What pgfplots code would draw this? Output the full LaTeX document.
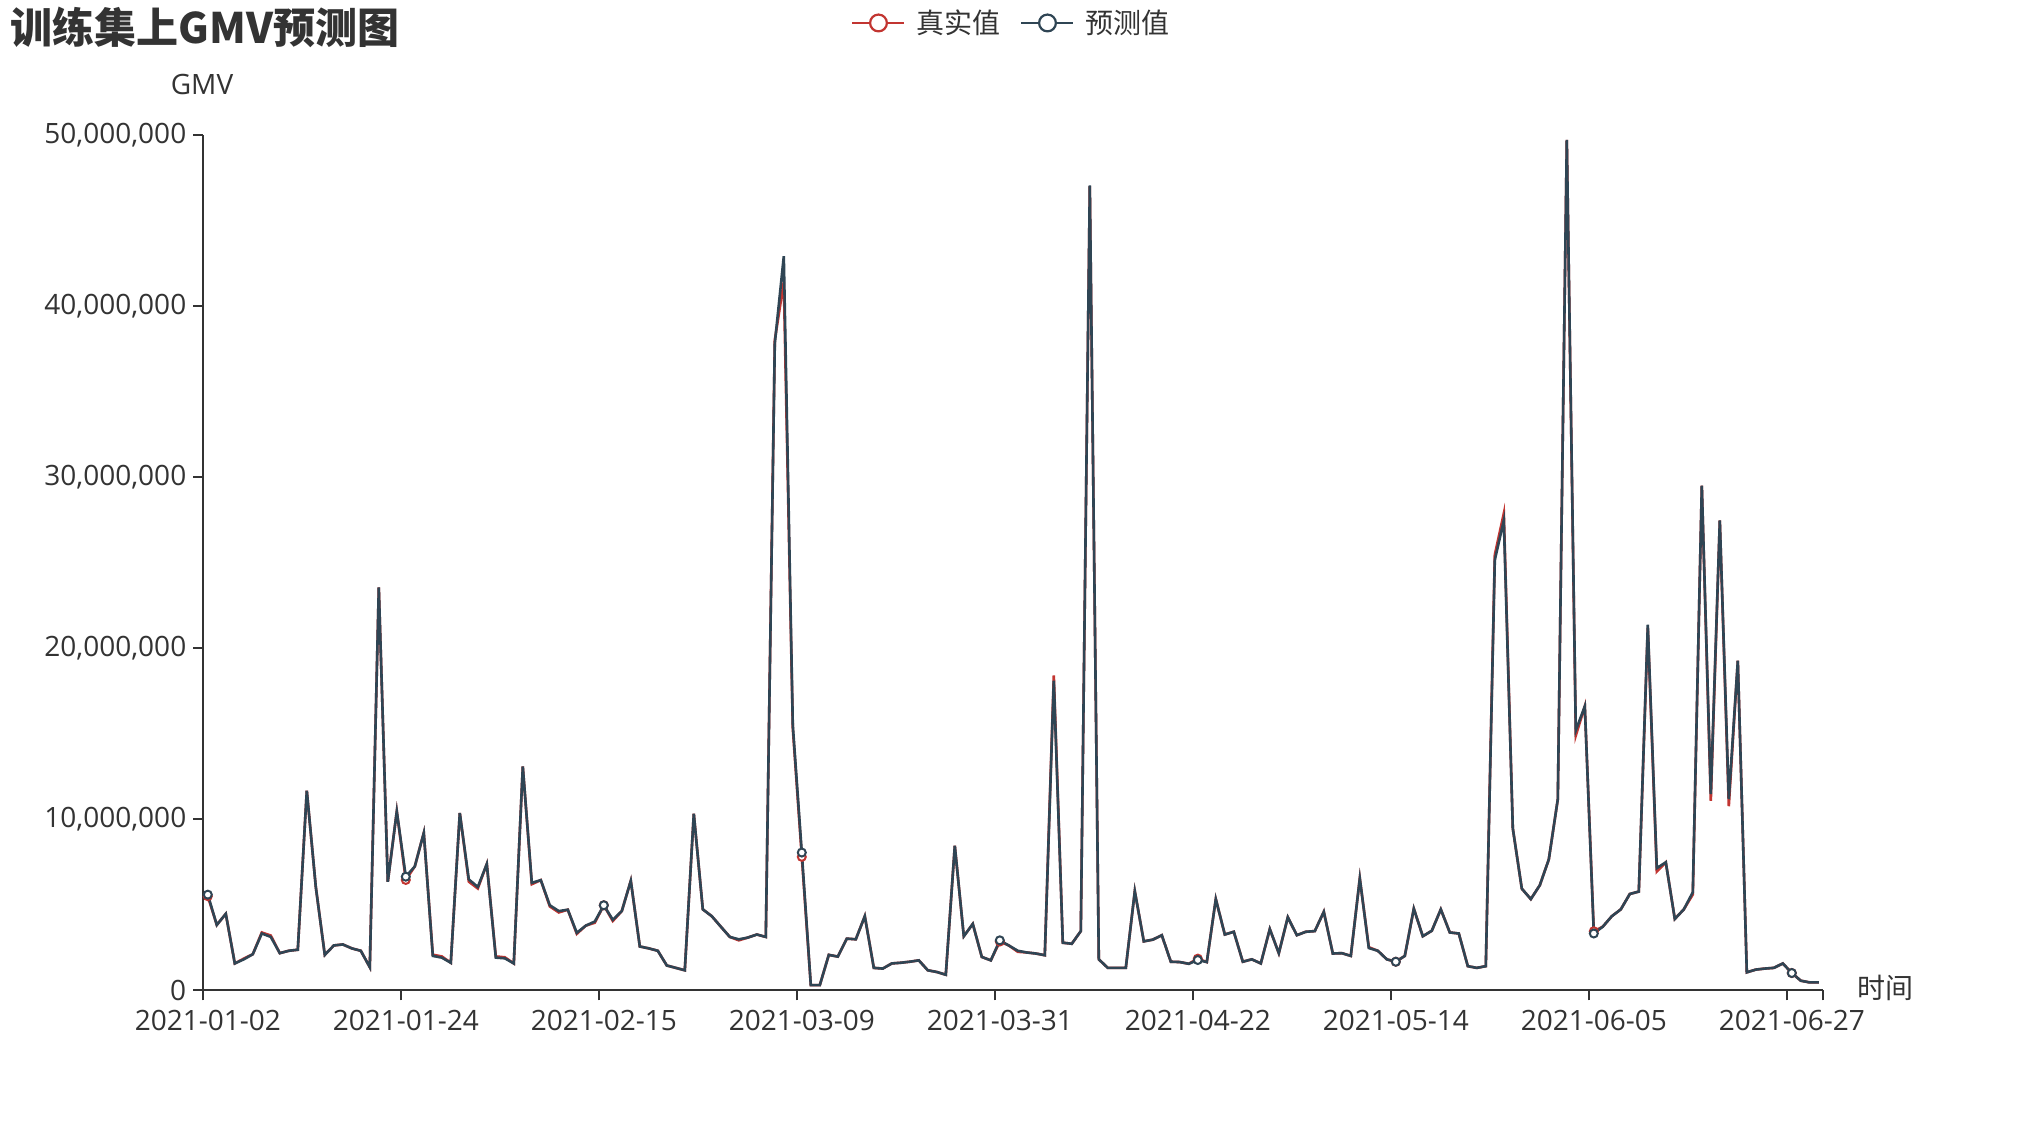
\documentclass[border=0pt]{standalone}
\usepackage{pgfplots}
\pgfplotsset{compat=1.18}
\usepackage{pgfplotstable}
\usepackage{fontspec}
\setmainfont{Open Sans}
\newfontfamily\cjk{Noto Sans CJK SC}
\definecolor{cred}{HTML}{C23531}
\definecolor{cdark}{HTML}{2F4554}
\definecolor{ctxt}{HTML}{333333}
\pgfplotstableread{
i real pred
0 5500000 5590000
1 3820000 3820000
2 4470000 4470000
3 1570000 1570000
4 1850000 1810000
5 2110000 2110000
6 3380000 3320000
7 3200000 3120000
8 2170000 2170000
9 2310000 2310000
10 2370000 2370000
11 11670000 11670000
12 6040000 6040000
13 2070000 2070000
14 2620000 2620000
15 2680000 2680000
16 2450000 2450000
17 2310000 2310000
18 1350000 1350000
19 23540000 23540000
20 6340000 6340000
21 10460000 10460000
22 6450000 6640000
23 7240000 7240000
24 9200000 9200000
25 2080000 2010000
26 1980000 1910000
27 1610000 1610000
28 10360000 10360000
29 6350000 6480000
30 5950000 6040000
31 7380000 7380000
32 1980000 1910000
33 1930000 1870000
34 1570000 1570000
35 13080000 13080000
36 6200000 6280000
37 6440000 6440000
38 4900000 4970000
39 4550000 4630000
40 4710000 4710000
41 3300000 3360000
42 3780000 3780000
43 3950000 4020000
44 4970000 4970000
45 4050000 4120000
46 4630000 4630000
47 6400000 6400000
48 2560000 2560000
49 2450000 2450000
50 2310000 2310000
51 1450000 1450000
52 1310000 1310000
53 1170000 1170000
54 10320000 10320000
55 4730000 4730000
56 4330000 4330000
57 3720000 3720000
58 3120000 3120000
59 2920000 2980000
60 3080000 3080000
61 3260000 3260000
62 3120000 3120000
63 38000000 37800000
64 41400000 42900000
65 15300000 15500000
66 7800000 8050000
67 300000 300000
68 300000 300000
69 2070000 2070000
70 1970000 1970000
71 3020000 3020000
72 2980000 2980000
73 4330000 4330000
74 1310000 1310000
75 1270000 1270000
76 1570000 1570000
77 1610000 1610000
78 1670000 1670000
79 1750000 1750000
80 1170000 1170000
81 1070000 1070000
82 910000 910000
83 8450000 8450000
84 3160000 3160000
85 3880000 3880000
86 1950000 1950000
87 1750000 1750000
88 2850000 2920000
89 2620000 2620000
90 2250000 2310000
91 2210000 2210000
92 2150000 2150000
93 2050000 2050000
94 18400000 18100000
95 2780000 2780000
96 2720000 2720000
97 3460000 3460000
98 47000000 47050000
99 1810000 1810000
100 1310000 1310000
101 1310000 1310000
102 1310000 1310000
103 5790000 5790000
104 2860000 2860000
105 2960000 2960000
106 3220000 3220000
107 1670000 1670000
108 1650000 1650000
109 1550000 1550000
110 1850000 1770000
111 1650000 1650000
112 5330000 5330000
113 3260000 3260000
114 3420000 3420000
115 1670000 1670000
116 1810000 1810000
117 1570000 1570000
118 3580000 3580000
119 2170000 2170000
120 4270000 4270000
121 3220000 3220000
122 3420000 3420000
123 3460000 3460000
124 4590000 4590000
125 2150000 2150000
126 2170000 2170000
127 2010000 2010000
128 6540000 6540000
129 2520000 2470000
130 2310000 2310000
131 1810000 1810000
132 1670000 1670000
133 2010000 2010000
134 4770000 4770000
135 3160000 3160000
136 3480000 3480000
137 4730000 4730000
138 3380000 3380000
139 3320000 3320000
140 1410000 1410000
141 1310000 1310000
142 1410000 1410000
143 25450000 25150000
144 27870000 27460000
145 9460000 9460000
146 5940000 5940000
147 5330000 5330000
148 6140000 6140000
149 7650000 7650000
150 11170000 11170000
151 49700000 49700000
152 14890000 15190000
153 16600000 16600000
154 3450000 3320000
155 3720000 3720000
156 4330000 4330000
157 4730000 4730000
158 5630000 5630000
159 5770000 5770000
160 21200000 21370000
161 6940000 7140000
162 7480000 7480000
163 4170000 4170000
164 4730000 4730000
165 5600000 5730000
166 29500000 29500000
167 11070000 11470000
168 27460000 27460000
169 10760000 11170000
170 19260000 19260000
171 1050000 1050000
172 1210000 1210000
173 1270000 1270000
174 1310000 1310000
175 1570000 1570000
176 1010000 1010000
177 560000 560000
178 460000 460000
179 460000 460000
}\gmvdata
\begin{document}
\begin{tikzpicture}
\fill[white] (0,0) rectangle (1012.5pt,562.5pt);
\useasboundingbox (0,0) rectangle (1012.5pt,562.5pt);
\begin{axis}[
  width=810pt, height=427.75pt, scale only axis,
  at={(101.65pt,67.35pt)}, anchor=south west,
  xmin=-0.5, xmax=179.5, ymin=0, ymax=50000000,
  enlargelimits=false,
  axis lines*=left,
  axis line style={ctxt, line width=1pt},
  tick align=outside, major tick length=5pt, minor tick length=5pt,
  tick style={ctxt, line width=1pt},
  xtick={0,22,44,66,88,110,132,154,176},
  xticklabels={2021-01-02,2021-01-24,2021-02-15,2021-03-09,2021-03-31,2021-04-22,2021-05-14,2021-06-05,2021-06-27},
  major x tick style={draw=none},
  minor xtick={-0.5,21.5,43.5,65.5,87.5,109.5,131.5,153.5,175.5,179.5},
  minor x tick style={draw=ctxt, line width=1pt},
  ytick={0,10000000,20000000,30000000,40000000,50000000},
  yticklabels={0,{10,000,000},{20,000,000},{30,000,000},{40,000,000},{50,000,000}},
  scaled y ticks=false,
  ticklabel style={font=\fontsize{14}{17}\selectfont, text=ctxt},
  xticklabel style={yshift=-1.3pt},
  legend style={at={(axis description cs:0.4995,1.1307)}, anchor=center, draw=none, fill=none,
    font=\cjk\fontsize{14}{17}\selectfont, text=ctxt, inner sep=0pt,
    /tikz/every odd column/.append style={column sep=3.5pt},
    /tikz/every even column/.append style={column sep=8pt}},
  legend columns=2,
  legend image code/.code={
    \draw[#1, line width=1pt] (0pt,0pt) -- (26pt,0pt);
    \draw[#1, line width=1.1pt, fill=white] (13pt,0pt) circle (4.2pt);
  },
]
\addplot[cred, line width=1.3pt, mark=*, mark repeat=22, mark size=2pt,
  mark options={fill=white, line width=1pt, solid}] table[x=i, y=real] {\gmvdata};
\addlegendentry{真实值}
\addplot[cdark, line width=1.3pt, mark=*, mark repeat=22, mark size=2pt,
  mark options={fill=white, line width=1pt, solid}] table[x=i, y=pred] {\gmvdata};
\addlegendentry{预测值}
\end{axis}
\node[anchor=west, inner sep=0pt, text=ctxt, font=\cjk\bfseries\fontsize{21}{25}\selectfont] at (5pt,549pt) {训练集上GMV预测图};
\node[inner sep=0pt, text=ctxt, font=\fontsize{14}{17}\selectfont] at (101pt,520pt) {GMV};
\node[anchor=west, inner sep=0pt, text=ctxt, font=\cjk\fontsize{14}{17}\selectfont] at (928.5pt,68.5pt) {时间};
\end{tikzpicture}
\end{document}
